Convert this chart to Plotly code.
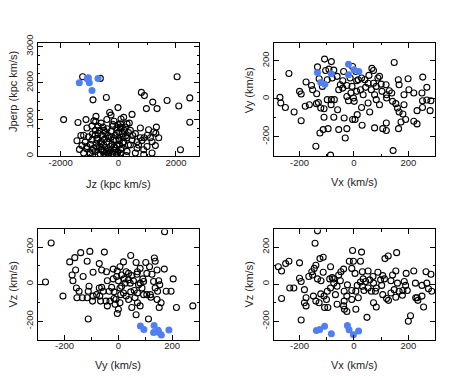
import plotly.graph_objects as go

# ---- panel 1: Jz vs Jperp (kpc km/s)
jz = [-1240, -626, -880, -417, -1900, -1402, -1124, -777, -788, -301, -255, -12, -1090, -916, -707,
      -533, -394, -185, -12, -1437, -1205, -1031, -800, -718, -568, -452, -336, -104, 12, -1263,
      -1090, -973, -858, -765, -649, -510, -394, -220, -104, 46, -1205, -973, -800, -626, -510,
      -336, -185, -46, -742, -603, -916, -162, -255, -46, 70,
      2040, 800, 904, 1194, 973, 1344, 1692, 2098, 2480, 2480, 2156, 475, 1321, 1228, 1008, 892,
      1112, 1402, 1170, 1286, 996, 881, 1170, 881, 591, 301, 128, 417, 649, 765, 591, 417, 244,
      93, 185, 70, 301, 128, 301, 475, 185, 12, 70, 278, 765, 649,
      -300, -200, -150, -400, -600, -700, -800, -500, -350, -50, -250, -450, 150, 250, 350, -1100,
      -1300, -900, -600, -400, -150, 100, 200, -50,
      -700, -550, -420, -280, -130, -20, 80, -900, -1000, -750, -350, -600, -480, -250, -80, 40,
      160, 350, 500, 700, 820, 1050, 1300, -1150, -1350, -650, -200, 380, -850]
jperp = [2169, 2125, 1538, 1600, 996, 916, 996, 1085, 942, 1191, 1120, 1325, 765, 818, 818,
         791, 747, 818, 853, 418, 569, 524, 569, 480, 569, 640, 480, 569, 658, 284,
         258, 320, 213, 347, 258, 302, 196, 320, 213, 302, 80, 53, 124, 53, 107,
         71, 107, 36, 436, 391, 436, 436, 676, 765, 791,
         2169, 1742, 1654, 1476, 1298, 1298, 1520, 1369, 1591, 925, 169, 1138, 791, 658, 569, 498,
         498, 498, 391, 284, 258, 169, 80, 36, 80, 124, 213, 302, 391, 498, 613, 702, 791,
         1013, 1058, 880, 880, 613, 498, 436, 391, 480, 80, 10, 765, 213,
         150, 50, 250, 380, 180, 620, 700, 700, 560, 300, 20, 20, 350, 550, 300, 200,
         560, 600, 900, 1000, 950, 760, 700, 620,
         30, 150, 120, 260, 150, 100, 180, 150, 90, 250, 30, 330, 460, 520, 430, 420,
         520, 640, 560, 300, 420, 720, 620, 380, 180, 700, 870, 900, 960]
jz_sel = [-1356, -1064, -1008, -1040, -706, -914, -1080]
jperp_sel = [2008, 2099, 2008, 2140, 2125, 1795, 2120]

# ---- panel 2: Vx vs Vy (km/s)
vx_a = [-108, -83, -134, -104, -92, -74, -62, -38, -5, 7, 28, 40, 72, 88, 72, 100, 148, 163, 166,
        199, 253, 268, -239, -156, -137, -176, -200, -272, -269, -252, -220, -194, -164, -138,
        -179, -110, -83, -72, -56, -41, -26, -7, -11, -2, 1, 10, 24, 34, 43, 52, 64, 76, 82, 103,
        120, 130, 142, 160, 166, 180, 154, 184, 202, 220, 232, 250, 252, 268, 283, 280, 252, 220,
        232, 190, 173, 164, 119, 106, 119, 76, 30, 12, 4, -5, 28, 58, -26, -56, -32, -95, -113,
        -125, -140, -86, 144, -36, -74, -110, -60, -26, -20, -41, -14, 16, 55, 94, 118, 139, 120,
        -80, -98, -128, -116, -152, -98, -122, -84, -50, 52, 82, 94, 184, -194, -131, 10, 66]
vy_a = [209, 196, 168, 149, 156, 151, 118, 144, 170, 144, 109, 100, 149, 109, 82, 77, 191, 100, 74,
        105, 114, 60, 133, 70, 26, 88, 39, 7, -23, -46, -70, -116, -32, -26,
        -40, -53, -5, -5, 47, 56, 70, 65, 30, 4, -14, 39, 47, 21, 60, 82, 47, 21, 65, 39,
        21, 42, -14, -49, -70, -81, -26, 21, 47, 30, -63, 30, -11, -7, -11, -63, -46, -119,
        -133, -110, -123, -158, -128, -158, -168, -154, -140, -84, -110, -110, -46, -70, -158, -163, -207, -158, -163,
        -181, -251, -298, -274, -102, -98, -98, -58, 12, -11, 95, 109, 100, 123, 118, 74, 30, 4,
        109, 100, 105, 65, 47, -5, -49, -32, 74, -23, -5, -32, -32, 25, -20, 95, 160]
vx_a_sel = [-134, -122, -107, -83, -20, -20, 0, 18]
vy_a_sel = [139, 86, 77, 132, 182, 126, 153, 144]

# ---- panel 3: Vy vs Vz (km/s)
vy_b = [-250, -271, -206, -140, -106, -52, -116, -162, -181, -172, -159, -169, -156, -154, -146,
        -134, -116, -109, -131, -112, -96, -112, -94, -71, -62, -44, -41, -62, -56, -66, -46, -41,
        -16, -9, -12, 0, -4, -19, -6, -4, 6, 19, 29, 46, 38, 25, 12, 44, 56, 69, 66, 71, 81, 59, 38,
        29, 46, 19, 9, 50, 71, 81, 66, 102, 116, 106, 88, 94, 106, 119, 112, 134, 137, 144, 131,
        150, 154, 146, 144, 159, 152, 171, 178, 196, 204, 216, 277, 172, 125, 91, 50, 12, -25, -71,
        -81, -69, -94, -34, -16, 6, 21, 38, -19, 0, 75, 71, 62, 6, -31, 121, 81, 94, 137]
vz_b = [222, 11, -65, 170, 177, 173, 124, 143, 120, 49, 76, 18, -21, -74, -39,
        -74, -74, -12, 41, -39, -92, -189, 64, 111, 76, 67, 18, -18, -39, -92, -92, -118,
        -78, -83, -109, -136, -159, 28, 41, 71, 94, 120, 67, 155, 23, 5, -12, 5, 18, 53, 117, 67, 5, -35, -83,
        -65, -42, -48, -57, -127, -101, -118, -166, 117, 94, 58, -21, -57, -57, -57, -189, 141, 124, 76, 14,
        18, -4, -39, -83, -101, -127, 81, -39, -39, 28, -127, -118, 283, 53, 28, 46, 49, -18, -21,
        -57, -65, -65, -39, -42, -21, 28, 58, 81, 18, -4, -48, -74, -101, -92, -71, 85, 14, -21]
vy_b_sel = [82, 95, 133, 131, 148, 151, 160, 188]
vz_b_sel = [-227, -245, -224, -262, -250, -262, -276, -248]

# ---- panel 4: Vx vs Vz (km/s)
vx_c = [-278, -266, -266, -251, -239, -236, -221, -200, -200, -194, -194, -182, -182, -176, -166,
        -155, -146, -152, -149, -143, -140, -134, -134, -128, -125, -121, -113, -113, -110, -108,
        -101, -96, -86, -89, -86, -80, -74, -74, -68, -62, -56, -48, -38, -36, -36, -38, -35, -26,
        -26, -17, -8, -5, -8, -8, -2, 4, 7, 7, 16, 24, 28, 31, 24, 31, 34, 37, 43, 48, 52, 58, 70,
        72, 72, 79, 82, 88, 98, 102, 106, 112, 114, 126, 120, 127, 136, 142, 148, 154, 157, 160,
        166, 178, 180, 190, 196, 200, 192, 208, 220, 232, 235, 250, 256, 265, 268, 274, 283, 286,
        250, 227, -122, -98, -50, -24, 52, 82, 106, 136, 185, 226, -140, -176, -62, 12, 64, 154]
vz_c = [94, 71, -78, 111, 124, -21, -21, 115, 32, 14, -194, -30, -101, -118, 41,
        67, 85, 49, -65, 221, 102, 288, 28, -101, 138, 18, 145, 64, -65, -127,
        -83, -127, 94, 28, -21, 35, 28, 5, -57, -12, 49, 67, 81, -39, -92, -118, -136, -65,
        -148, 124, 85, 182, -35, -83, 124, 58, -39, -136, -74, 124, 173, 67, 11, -12, 28, -35, 14, -180, -21, 23, 41,
        5, -101, -39, -124, 64, 23, -7, 46, 28, 138, 152, -78, -88, 18, 49, -30, 71, 170, 5,
        -39, -60, -35, -7, -35, -201, 58, -171, 71, -74, -88, -7, -124, 67, 5, -25, 53, -39,
        -65, -74, -53, -39, 18, -4, 71, -21, -57, -48, 14, 5, -92, -74, -109, -7, -39, -71]
vx_c_sel = [-138, -126, -108, -83, -24, -18, -2, 17]
vz_c_sel = [-251, -245, -228, -268, -224, -247, -274, -254]

FONT = "Liberation Sans, Arial, Helvetica, sans-serif"
BLUE = "#4f7ff2"

# page body has an 8px margin, so the figure is drawn from (8, 8)
W, H, OFF = 465, 370, 8


def px_x(p):
    return (p - OFF) / W


def px_y(p):
    return 1 - (p - OFF) / H


fig = go.Figure()

panels = [
    ("x", "y", jz, jperp, jz_sel, jperp_sel),
    ("x2", "y2", vx_a, vy_a, vx_a_sel, vy_a_sel),
    ("x3", "y3", vy_b, vz_b, vy_b_sel, vz_b_sel),
    ("x4", "y4", vx_c, vz_c, vx_c_sel, vz_c_sel),
]
for xa, ya, xs, ys, xsel, ysel in panels:
    fig.add_trace(go.Scatter(x=xs, y=ys, mode="markers", xaxis=xa, yaxis=ya,
                             marker=dict(symbol="circle-open", size=6, color="black",
                                         line=dict(width=1.1, color="black"))))
    fig.add_trace(go.Scatter(x=xsel, y=ysel, mode="markers", xaxis=xa, yaxis=ya,
                             marker=dict(symbol="circle", size=7, color=BLUE,
                                         line=dict(width=0))))


def ax(domain, rng, minor, vals, text, anchor, ylike=False):
    d = dict(domain=domain, range=rng, anchor=anchor, showgrid=False, zeroline=False,
             showline=True, linecolor="black", linewidth=1, mirror="allticks",
             ticks="inside", ticklen=5, tickwidth=1, tickcolor="black",
             tickvals=vals, ticktext=text,
             minor=dict(ticks="inside", ticklen=2.5, dtick=minor, tick0=0,
                        tickcolor="black", tickwidth=1, showgrid=False),
             tickfont=dict(family=FONT, size=9.5, color="#222"))
    if ylike:
        d["tickangle"] = -90
    else:
        d["ticklabelstandoff"] = -3
    return d


xl = [px_x(37.7), px_x(199)]
xr = [px_x(273.7), px_x(435)]
yt = [px_y(152), px_y(35.5)]
yb = [px_y(340), px_y(226.7)]
v_vals = [-200, 0, 200]
v_text = ["-200", "0", "200"]

fig.update_layout(
    width=W, height=H,
    margin=dict(l=0, r=0, t=0, b=0),
    paper_bgcolor="white", plot_bgcolor="white",
    showlegend=False,
    xaxis=ax(xl, [-2800, 2800], 1000, [-2000, 0, 2000], ["-2000", "0", "2000"], "y"),
    yaxis=ax(yt, [-15, 3100], 250, [0, 1000, 2000, 3000], ["0", "1000", "2000", "3000"], "x", True),
    xaxis2=ax(xr, [-295, 298], 100, v_vals, v_text, "y2"),
    yaxis2=ax(yt, [-305, 295], 100, v_vals, v_text, "x2", True),
    xaxis3=ax(xl, [-300, 300], 100, v_vals, v_text, "y3"),
    yaxis3=ax(yb, [-302, 296], 100, v_vals, v_text, "x3", True),
    xaxis4=ax(xr, [-295, 298], 100, v_vals, v_text, "y4"),
    yaxis4=ax(yb, [-302, 296], 100, v_vals, v_text, "x4", True),
)

titles = [
    ("Jz (kpc km/s)", 118.3, 180, 0),
    ("Vx (km/s)", 354.3, 178, 0),
    ("Vy (km/s)", 118.3, 366, 0),
    ("Vx (km/s)", 354.3, 366, 0),
    ("Jperp (kpc km/s)", 13, 86, -90),
    ("Vy (km/s)", 249, 84, -90),
    ("Vz (km/s)", 13, 283.3, -90),
    ("Vz (km/s)", 249, 283.3, -90),
]
for t, px, py, ang in titles:
    fig.add_annotation(text=t, x=px_x(px), y=px_y(py), xref="paper", yref="paper",
                       showarrow=False, textangle=ang, xanchor="center", yanchor="middle",
                       font=dict(family=FONT, size=11, color="#222"))

fig.write_html("out.html")
